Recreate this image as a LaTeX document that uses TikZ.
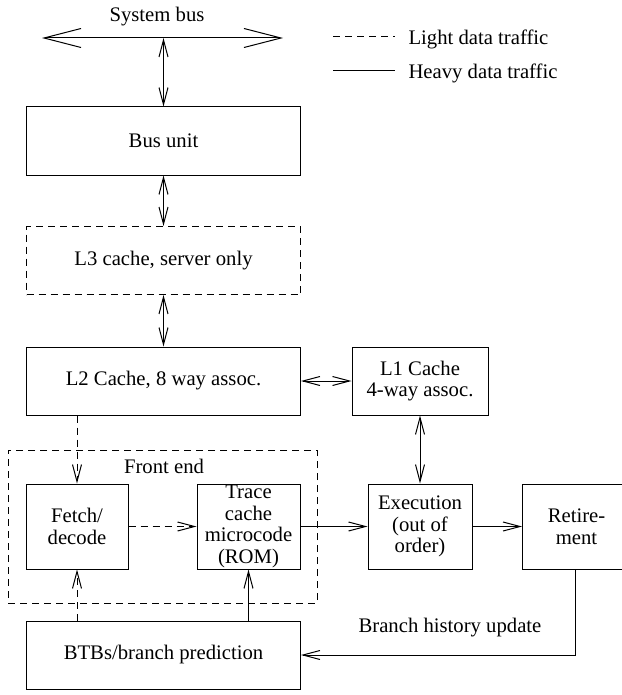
\documentclass[tikz,border=0pt]{standalone}
\usepackage{fontspec}
\setmainfont{Liberation Serif}
\usetikzlibrary{arrows.meta}
\begin{document}
\begin{tikzpicture}[x=1pt,y=-1pt,
  line width=1pt,
  font=\fontsize{20.7}{21.7}\selectfont,
  box/.style={draw, rectangle, inner sep=0pt, align=center},
  wide/.style={box, minimum width=274pt, minimum height=68pt},
  small/.style={box, minimum height=85pt},
  light/.style={dash pattern=on 7pt off 5pt},
  tip/.style={Straight Barb[length=17pt,width=9pt]},
  oneway/.style={-{Straight Barb[length=17pt,width=9pt]}},
  twoway/.style={{Straight Barb[length=17pt,width=9pt]}-{Straight Barb[length=17pt,width=9pt]}},
  bigway/.style={{Straight Barb[length=37pt,width=19pt]}-{Straight Barb[length=37pt,width=19pt]}},
  label/.style={inner sep=0pt}]
\useasboundingbox (0,0) rectangle (621,695);

% system bus
\coordinate (busL) at (42,38);
\coordinate (busR) at (283,38);
\coordinate (busT) at (163.5,38);
\node[label, anchor=base] (bustext) at (157,22) {System bus};
\draw[bigway] (busL) -- (busR);

% legend
\coordinate (lgA1) at (333,37);
\coordinate (lgA2) at (395,37);
\coordinate (lgB1) at (333,71);
\coordinate (lgB2) at (395,71);
\draw[light] (lgA1) -- (lgA2);
\draw (lgB1) -- (lgB2);
\node[label, anchor=west] (lgtA) at (408,39) {Light data traffic};
\node[label, anchor=west] (lgtB) at (408,73) {Heavy data traffic};

% front end frame
\node[draw, light, rectangle, inner sep=0pt, minimum width=309pt, minimum height=153pt] (front) at (162.5,526.5) {};
\node[label, anchor=base] (fronttext) at (164,473) {Front end};

% units
\node[wide] (bus) at (163.5,141) {Bus unit};
\node[wide, light] (L3) at (163.5,260.5) {L3 cache, server only};
\node[wide] (L2) at (163.5,381) {L2 Cache, 8 way assoc.};
\node[box, minimum width=136pt, minimum height=68pt] (L1) at (420,381) {L1 Cache\\4-way assoc.};
\node[small, minimum width=102pt] (fetch) at (77,526.5) {Fetch/\\decode};
\node[small, minimum width=103pt] (trace) at (248.5,526.5) {Trace\\cache\\microcode\\(ROM)};
\node[small, minimum width=104pt] (exec) at (420,526.5) {Execution\\(out of\\order)};
\node[small, minimum width=108pt] (retire) at (576.5,526.5) {Retire-\\ment};
\node[wide] (btb) at (163.5,655) {BTBs/branch prediction};

% connections
\draw[twoway] (busT) -- (bus.north);
\draw[twoway] (bus.south) -- (L3.north);
\draw[twoway] (L3.south) -- (L2.north);
\draw[twoway] (L2.east) -- (L1.west);
\draw[twoway] (L1.south) -- (exec.north);
\draw[oneway, light] (fetch.north |- L2.south) -- (fetch.north);
\draw[oneway, light] (fetch.east) -- (trace.west);
\draw[oneway] (trace.east) -- (exec.west);
\draw[oneway] (exec.east) -- (retire.west);
\draw[oneway, light] (fetch.south |- btb.north) -- (fetch.south);
\draw[oneway] (trace.south |- btb.north) -- (trace.south);
\draw[oneway] ([xshift=-1.5pt]retire.south) |- (btb.east);
\node[label, anchor=base] (histtext) at (450,632) {Branch history update};
\end{tikzpicture}
\end{document}
